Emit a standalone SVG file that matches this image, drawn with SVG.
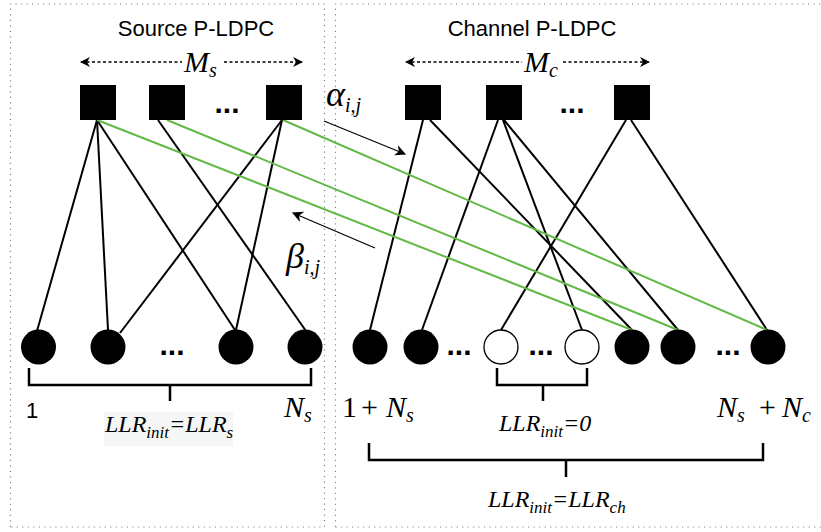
<svg xmlns="http://www.w3.org/2000/svg" width="821" height="532" viewBox="0 0 821 532">
  <style>
    .frame { fill: none; stroke: #888; stroke-width: 1.2; stroke-dasharray: 1.2 4.3; }
    .title { font-family: "Liberation Sans", Arial, sans-serif; font-size: 22px; fill: #000; text-anchor: middle; }
    .sans { font-family: "Liberation Sans", Arial, sans-serif; font-size: 22px; fill: #000; }
    .math { font-family: "Liberation Serif", "Times New Roman", serif; font-style: italic; font-size: 30px; fill: #000; }
    .greek { font-family: "Liberation Serif", "Times New Roman", serif; font-style: italic; font-size: 36px; fill: #000; }
    .up { font-family: "Liberation Serif", "Times New Roman", serif; font-size: 30px; fill: #000; }
    .sub { font-size: 20px; }
    .llr { font-family: "Liberation Serif", "Times New Roman", serif; font-style: italic; font-size: 24px; fill: #000; }
    .llr .sub { font-size: 17px; }
    .dots { font-family: "Liberation Sans", Arial, sans-serif; font-size: 30px; font-weight: bold; fill: #000; text-anchor: middle; }
    .check { fill: #000; }
    .var { fill: #000; }
    .var.open { fill: #fff; stroke: #000; stroke-width: 1.3; }
    .edge { stroke: #000; stroke-width: 2; fill: none; }
    .edge.cross { stroke: #62b946; }
    .span { stroke: #000; stroke-width: 1.5; fill: none; stroke-dasharray: 3 2.5; }
    .msg { stroke: #000; stroke-width: 1.2; fill: none; }
    .brace { stroke: #000; stroke-width: 2.5; fill: none; }
  </style>
  <defs>
    <marker id="head" viewBox="0 0 10 10" refX="9" refY="5" markerWidth="10" markerHeight="10" markerUnits="userSpaceOnUse" orient="auto-start-reverse">
      <path d="M0,0 L10,5 L0,10 L3,5 Z" fill="#000"/>
    </marker>
    <marker id="headSmall" viewBox="0 0 10 10" refX="9" refY="5" markerWidth="11" markerHeight="11" markerUnits="userSpaceOnUse" orient="auto">
      <path d="M0,0 L10,5 L0,10 L3,5 Z" fill="#000"/>
    </marker>
  </defs>

  <rect width="821" height="532" fill="#fff"/>

  <!-- section frames -->
  <g id="frames">
    <path class="frame" d="M10.5,527 V4 H324.5 V527 H10.5 Z"/>
    <path class="frame" d="M335.5,527 V4 H825 M335.5,527 H825"/>
  </g>

  <!-- section titles -->
  <text class="title" x="196" y="36">Source P-LDPC</text>
  <text class="title" x="532" y="36">Channel P-LDPC</text>

  <!-- check-node span arrows -->
  <g id="spans">
    <line class="span" x1="81" y1="62" x2="182" y2="62" marker-start="url(#head)"/>
    <line class="span" x1="224" y1="62" x2="302" y2="62" marker-end="url(#head)"/>
    <text class="math" x="184" y="72">M<tspan class="sub" dy="5">s</tspan></text>
    <line class="span" x1="406" y1="62" x2="522" y2="62" marker-start="url(#head)"/>
    <line class="span" x1="563" y1="62" x2="649" y2="62" marker-end="url(#head)"/>
    <text class="math" x="524" y="72">M<tspan class="sub" dy="5">c</tspan></text>
  </g>

  <!-- connectors -->
  <g id="connectors">
    <!-- source graph -->
    <line class="edge" x1="97" y1="120" x2="37" y2="331"/>
    <line class="edge" x1="97" y1="120" x2="108" y2="330"/>
    <line class="edge" x1="97" y1="120" x2="235" y2="330"/>
    <line class="edge" x1="158" y1="120" x2="306" y2="331"/>
    <line class="edge" x1="282" y1="120" x2="120" y2="333"/>
    <line class="edge" x1="282" y1="120" x2="236" y2="330"/>
    <!-- channel graph -->
    <line class="edge" x1="423" y1="120" x2="370" y2="330"/>
    <line class="edge" x1="430" y1="120" x2="632" y2="330"/>
    <line class="edge" x1="498" y1="120" x2="422" y2="330"/>
    <line class="edge" x1="503" y1="120" x2="582" y2="330"/>
    <line class="edge" x1="504" y1="120" x2="678" y2="330"/>
    <line class="edge" x1="626" y1="120" x2="501" y2="330"/>
    <line class="edge" x1="631" y1="120" x2="767" y2="330"/>
    <!-- links between the two graphs -->
    <line class="edge cross" x1="97" y1="120" x2="632" y2="330"/>
    <line class="edge cross" x1="167" y1="120" x2="678" y2="330"/>
    <line class="edge cross" x1="283" y1="120" x2="767" y2="330"/>
    <!-- message passing -->
    <line class="msg" x1="324" y1="121" x2="405" y2="154" marker-end="url(#headSmall)"/>
    <line class="msg" x1="375" y1="248" x2="293" y2="213" marker-end="url(#headSmall)"/>
  </g>

  <!-- message labels -->
  <text class="greek" x="326" y="106">α<tspan class="sub" dy="6">i,j</tspan></text>
  <text class="greek" x="286" y="268">β<tspan class="sub" dy="6">i,j</tspan></text>

  <!-- check nodes -->
  <g id="check-s1"><rect class="check" x="80" y="85" width="36" height="35"/></g>
  <g id="check-s2"><rect class="check" x="149" y="85" width="36" height="35"/></g>
  <text class="dots" x="227" y="113">...</text>
  <g id="check-s3"><rect class="check" x="266" y="85" width="36" height="35"/></g>
  <g id="check-c1"><rect class="check" x="405" y="85" width="36" height="35"/></g>
  <g id="check-c2"><rect class="check" x="486" y="85" width="36" height="35"/></g>
  <text class="dots" x="572" y="113">...</text>
  <g id="check-c3"><rect class="check" x="614" y="85" width="36" height="35"/></g>

  <!-- variable nodes -->
  <g id="var-s1"><circle class="var" cx="38.5" cy="347" r="17.5"/></g>
  <g id="var-s2"><circle class="var" cx="108" cy="347" r="17.5"/></g>
  <text class="dots" x="172" y="355">...</text>
  <g id="var-s3"><circle class="var" cx="236" cy="347" r="17.5"/></g>
  <g id="var-s4"><circle class="var" cx="305" cy="347" r="17.5"/></g>
  <g id="var-c1"><circle class="var" cx="370" cy="347" r="17.5"/></g>
  <g id="var-c2"><circle class="var" cx="421" cy="347" r="17.5"/></g>
  <text class="dots" x="459" y="355">...</text>
  <g id="var-p1"><circle class="var open" cx="501" cy="347" r="17"/></g>
  <text class="dots" x="541" y="355">...</text>
  <g id="var-p2"><circle class="var open" cx="582" cy="347" r="17"/></g>
  <g id="var-c3"><circle class="var" cx="632" cy="347" r="17.5"/></g>
  <g id="var-c4"><circle class="var" cx="678" cy="347" r="17.5"/></g>
  <text class="dots" x="728" y="355">...</text>
  <g id="var-c5"><circle class="var" cx="768" cy="347" r="17.5"/></g>

  <!-- index braces -->
  <g id="braces">
    <path class="brace" d="M29,368 V385 H311 V368 M170,385 V401"/>
    <path class="brace" d="M497,368 V385 H587 V368 M543,385 V401"/>
    <path class="brace" d="M369,443 V460 H763 V443 M566,460 V477"/>
  </g>

  <!-- index labels -->
  <text class="sans" x="26" y="418">1</text>
  <text class="math" x="284" y="417">N<tspan class="sub" dy="5">s</tspan></text>
  <text class="up" x="342" y="417">1</text>
  <text class="up" x="361" y="417">+</text>
  <text class="math" x="386" y="417">N<tspan class="sub" dy="5">s</tspan></text>
  <text class="math" x="717" y="417">N<tspan class="sub" dy="5">s</tspan></text>
  <text class="up" x="759" y="417">+</text>
  <text class="math" x="782" y="417">N<tspan class="sub" dy="5">c</tspan></text>

  <!-- initial LLR labels -->
  <rect x="104" y="412" width="129" height="34" fill="#f4f7f5"/>
  <text class="llr" x="105" y="432">LLR<tspan class="sub" dy="6">init</tspan><tspan dy="-6">=LLR</tspan><tspan class="sub" dy="6">s</tspan></text>
  <text class="llr" x="499" y="431">LLR<tspan class="sub" dy="6">init</tspan><tspan dy="-6">=0</tspan></text>
  <text class="llr" x="488" y="507">LLR<tspan class="sub" dy="6">init</tspan><tspan dy="-6">=LLR</tspan><tspan class="sub" dy="6">ch</tspan></text>
</svg>
